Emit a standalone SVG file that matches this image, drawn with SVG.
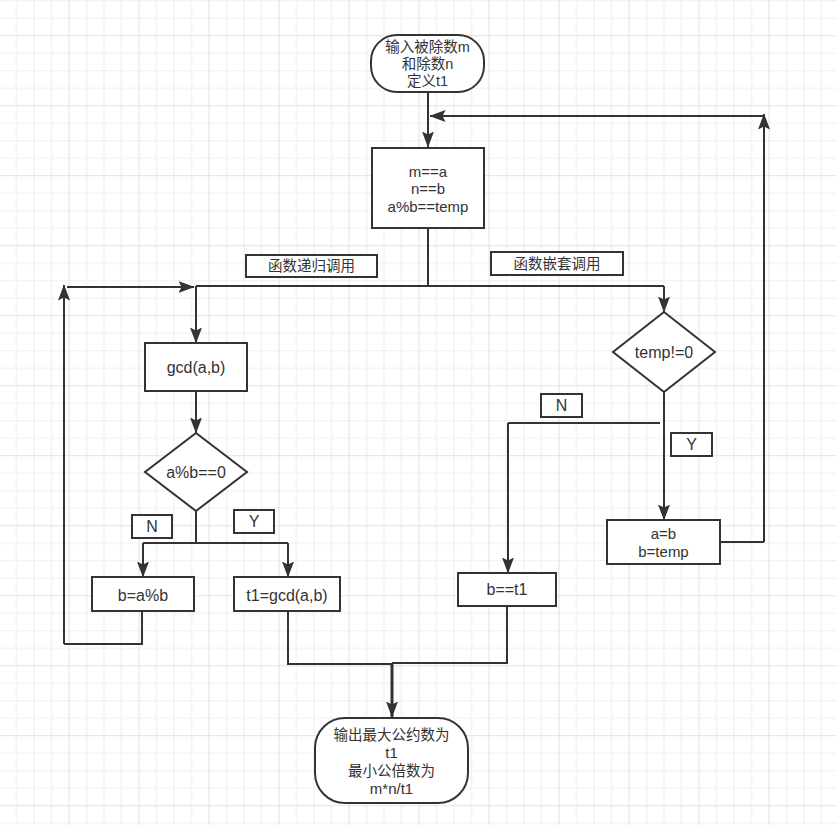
<svg xmlns="http://www.w3.org/2000/svg" width="837" height="825" viewBox="0 0 837 825">
<defs>
<pattern id="grid" x="-1.5" y="0.2" width="70" height="70" patternUnits="userSpaceOnUse">
<rect x="0" y="0" width="70" height="70" fill="#ffffff"/>
<path d="M18,0V70M35.5,0V70M53,0V70M0,0.5H70M0,18H70M0,53H70" stroke="#efefef" stroke-width="1.2" fill="none"/>
<path d="M0.5,0V70M0,35.5H70" stroke="#e3e3e3" stroke-width="1.2" fill="none"/>
</pattern>
<marker id="arr" viewBox="0 0 16 12" refX="15.5" refY="6" markerWidth="16" markerHeight="12" orient="auto" markerUnits="userSpaceOnUse">
<path d="M0,0 L16,6 L0,12 L3,6 Z" fill="#333333"/>
</marker>
</defs>
<style>
.box{fill:#ffffff;stroke:#333333;stroke-width:2}
.lbl{fill:#ffffff;stroke:#333333;stroke-width:2}
.t{font-family:"Liberation Sans","Noto Sans CJK SC",sans-serif;font-size:15px;fill:#333333;text-anchor:middle;dominant-baseline:central}
.cjk{font-size:14.5px}
.s{font-size:16px}
.c{fill:none;stroke:#333333;stroke-width:2}
.ca{fill:none;stroke:#333333;stroke-width:2;marker-end:url(#arr)}
</style>
<rect x="0" y="0" width="837" height="825" fill="url(#grid)"/>

<g id="connectors">
<path class="ca" d="M428,92 V147"/>
<path class="ca" d="M764,542 V114"/>
<path class="c" d="M720,542 H764"/>
<path class="ca" d="M763,116 H430"/>
<path class="c" d="M428,228 V286 M196,286 H664"/>
<path class="ca" d="M664,286 V312"/>
<path class="ca" d="M196,286 V343"/>
<path class="ca" d="M196,391 V433"/>
<path class="c" d="M196,511 V543 M143,543 H288"/>
<path class="ca" d="M143,543 V577"/>
<path class="ca" d="M288,543 V577"/>
<path class="c" d="M142,611 V644 H64"/>
<path class="ca" d="M64,644 V285"/>
<path class="ca" d="M67,287 H194"/>
<path class="ca" d="M664,392 V520"/>
<path class="c" d="M660,423 H508"/>
<path class="ca" d="M508,423 V573"/>
<path class="c" d="M288,611 V664 H392 M507,606 V663 H392"/>
<path class="ca" d="M392,664 V717" style="stroke-width:3"/>
</g>

<g id="start">
<rect class="box" x="371" y="35" width="113" height="57" rx="26" ry="26"/>
<text class="t cjk" x="427.5" y="47">输入被除数m</text>
<text class="t cjk" x="427.5" y="64">和除数n</text>
<text class="t cjk" x="427.5" y="81">定义t1</text>
</g>

<g id="init">
<rect class="box" x="372" y="148" width="112" height="80"/>
<text class="t" x="428" y="171">m==a</text>
<text class="t" x="428" y="188.5">n==b</text>
<text class="t" x="428" y="206">a%b==temp</text>
</g>

<g id="label-recursive">
<rect class="lbl" x="246" y="255" width="131" height="22"/>
<text class="t cjk" x="311.5" y="266">函数递归调用</text>
</g>

<g id="label-nested">
<rect class="lbl" x="491" y="252" width="132" height="23"/>
<text class="t cjk" x="557" y="263.5">函数嵌套调用</text>
</g>

<g id="gcd">
<rect class="box" x="145" y="343" width="102" height="48"/>
<text class="t s" x="196" y="367">gcd(a,b)</text>
</g>

<g id="cond-ab">
<polygon class="box" points="196,433 247,472 196,511 145,472"/>
<text class="t s" x="196" y="472">a%b==0</text>
</g>

<g id="label-n1">
<rect class="lbl" x="132" y="515" width="40" height="23"/>
<text class="t s" x="152" y="526.5">N</text>
</g>

<g id="label-y1">
<rect class="lbl" x="234" y="510" width="40" height="23"/>
<text class="t s" x="254" y="521.5">Y</text>
</g>

<g id="b-mod">
<rect class="box" x="92" y="577" width="102" height="34"/>
<text class="t s" x="143" y="595">b=a%b</text>
</g>

<g id="t1-gcd">
<rect class="box" x="234" y="577" width="106" height="34"/>
<text class="t s" x="287" y="595">t1=gcd(a,b)</text>
</g>

<g id="cond-temp">
<polygon class="box" points="664,312 715,352 664,392 613,352"/>
<text class="t s" x="664" y="352">temp!=0</text>
</g>

<g id="label-n2">
<rect class="lbl" x="541" y="394" width="41" height="23"/>
<text class="t s" x="561.5" y="405.5">N</text>
</g>

<g id="label-y2">
<rect class="lbl" x="671" y="433" width="41" height="23"/>
<text class="t s" x="691.5" y="444.5">Y</text>
</g>

<g id="swap">
<rect class="box" x="607" y="520" width="113" height="44"/>
<text class="t" x="663.5" y="533">a=b</text>
<text class="t" x="663.5" y="551">b=temp</text>
</g>

<g id="b-t1">
<rect class="box" x="458" y="573" width="98" height="33"/>
<text class="t s" x="507" y="589.5">b==t1</text>
</g>

<g id="end">
<rect class="box" x="315" y="718" width="153" height="85" rx="30" ry="30"/>
<text class="t cjk" x="391.5" y="735">输出最大公约数为</text>
<text class="t" x="391.5" y="752.5">t1</text>
<text class="t cjk" x="391.5" y="770.5">最小公倍数为</text>
<text class="t" x="391.5" y="788">m*n/t1</text>
</g>
</svg>
